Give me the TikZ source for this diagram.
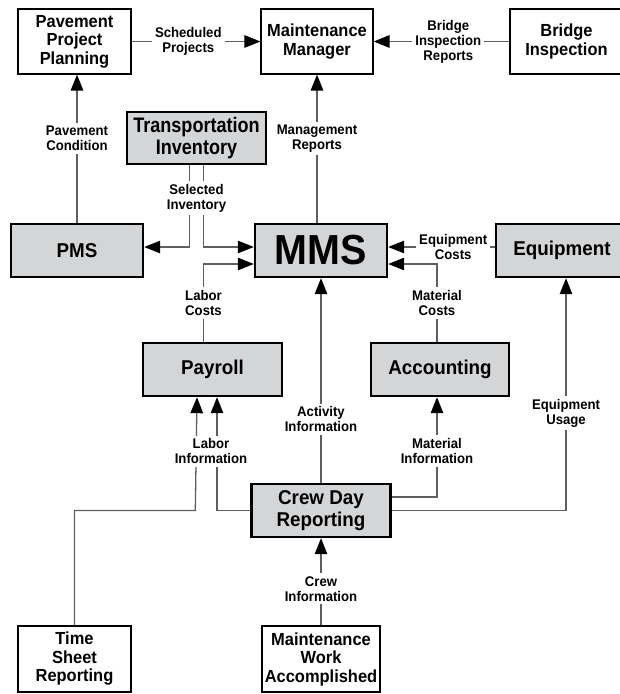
\documentclass[tikz,border=0pt]{standalone}
\usepackage{fontspec}
\setmainfont{Liberation Sans}[FakeStretch=0.94]
\newfontfamily\tifont{Liberation Sans}[FakeStretch=0.86]
\usetikzlibrary{arrows.meta,calc}
\definecolor{boxgray}{RGB}{212,213,215}
\definecolor{linegray}{RGB}{95,95,95}
\begin{document}
\begin{tikzpicture}[x=1pt,y=-1pt,
  plain/.style={draw,line width=1.2pt,align=center,inner sep=0pt,minimum width=113pt,minimum height=65pt,font=\bfseries\fontsize{17.5}{18.5}\selectfont},
  shaded/.style={draw,fill=boxgray,line width=2.4pt,align=center,inner sep=0pt,minimum width=139pt,minimum height=53pt,font=\bfseries\fontsize{20}{22}\selectfont},
  lbl/.style={fill=white,align=center,inner sep=3pt,font=\bfseries\fontsize{14}{15}\selectfont},
  flow/.style={draw=linegray,line width=1.3pt},
  tip/.style={-{Triangle[length=16pt,width=12.5pt,color=black]}}]
\useasboundingbox (0,0) rectangle (620,694);
% boxes
\draw(74.5,41.5) node[plain] (ppp) {Pavement\\Project\\Planning};
\draw(317,41.5) node[plain,minimum width=112pt] (mm) {Maintenance\\Manager};
\draw(566.5,41.5) node[plain] (bi) {Bridge\\Inspection};
\draw(196.5,138) node[shaded,minimum height=52pt,font=\tifont\bfseries\fontsize{21}{22}\selectfont] (ti) {Transportation\\Inventory};
\draw(77,250.5) node[shaded,minimum width=132pt] (pms) {PMS};
\draw(321,250.5) node[shaded,minimum width=132pt,font=\bfseries\fontsize{42}{44}\selectfont] (mms) {MMS};
\draw(562,250.5) node[shaded,minimum width=132pt] (eq) {Equipment};
\draw(212.5,369.5) node[shaded] (pay) {Payroll};
\draw(440,369.5) node[shaded,minimum width=138pt] (acc) {Accounting};
\draw(321,510.5) node[shaded] (crew) {Crew Day\\Reporting};
\draw(74.5,659) node[plain,minimum height=66pt] (tsr) {Time\\Sheet\\Reporting};
\draw(321,659) node[plain,minimum width=118pt,minimum height=66pt] (mwa) {Maintenance\\Work\\Accomplished};
% top row
\draw[flow,tip] (ppp) -- node[lbl,pos=0.44] (sp) {Scheduled\\Projects} (mm);
\draw[flow,tip] (bi) -- node[lbl,pos=0.45] (bir) {Bridge\\Inspection\\Reports} (mm);
\draw[flow,tip] (pms) -- node[lbl,pos=0.57] (pc) {Pavement\\Condition} (pms |- ppp.south);
\draw[flow,tip] (mms.north -| mm.south) -- node[lbl,pos=0.57] (mr) {Management\\Reports} (mm.south);
% inventory
\draw[flow,tip] ($(ti.south)+(-7,0)$) |- ($(pms.east)+(0,-3.5)$);
\draw[flow,tip] ($(ti.south)+(7,0)$) |- ($(mms.west)+(0,-3.5)$);
\node[lbl] (si) at ($(ti.south)+(0,33)$) {Selected\\Inventory};
% costs into MMS
\draw[flow,tip] ($(pay.north)+(-9,0)$) |- node[lbl,pos=0.25] (lc) {Labor\\Costs} ($(mms.west)+(0,13.5)$);
\draw[flow,tip] ($(acc.north)+(-3,0)$) |- node[lbl,pos=0.25] (mc) {Material\\Costs} ($(mms.east)+(0,13.5)$);
\draw[flow,tip] ($(eq.west)+(0,-3.5)$) -- node[lbl,pos=0.39] (ec) {Equipment\\Costs} ($(mms.east)+(0,-3.5)$);
% crew day reporting
\draw[flow,tip] (crew) -- node[lbl,pos=0.31] (ai) {Activity\\Information} (mms);
\draw[flow,tip] (crew.west) -| ($(pay.south)+(4.5,0)$);
\draw[flow,tip] (tsr.north) |- ($(crew.west)+(-55,0)$) -- ($(pay.south)+(-15.5,0)$);
\node[lbl] (li) at ($(pay.south)+(-1.5,54)$) {Labor\\Information};
\draw[flow,tip] ($(crew.east)+(0,-13.5)$) -| node[lbl,pos=0.73] (mi) {Material\\Information} ($(acc.south)+(-3,0)$);
\draw[flow,tip] (crew.east) -| node[lbl,pos=0.71] (eu) {Equipment\\Usage} ($(eq.south)+(4,0)$);
\draw[flow,tip] (mwa) -- node[lbl,pos=0.42] (ci) {Crew\\Information} (crew);
\end{tikzpicture}
\end{document}
